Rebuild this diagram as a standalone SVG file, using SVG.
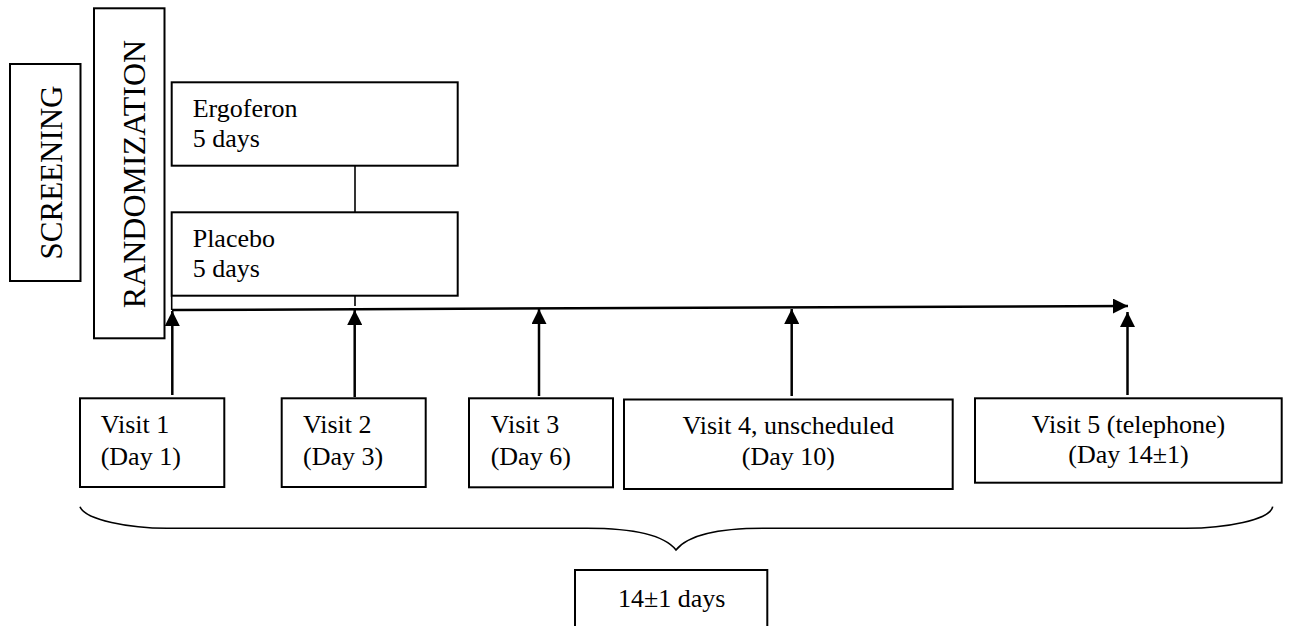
<svg xmlns="http://www.w3.org/2000/svg" width="1289" height="626" viewBox="0 0 1289 626">
<style>
.box{fill:#fff;stroke:#000;stroke-width:2}
.t{font-family:"Liberation Serif","Times New Roman",serif;font-size:26px;fill:#000}
.c{text-anchor:middle}
.big{font-family:"Liberation Serif","Times New Roman",serif;font-size:31px;fill:#000;text-anchor:middle}
.ln{stroke:#000;stroke-width:2.5;fill:none}
.thin{stroke:#000;stroke-width:1.6;fill:none}
</style>
<defs>
<marker id="ah" viewBox="0 0 10 10" refX="10" refY="5" markerWidth="6" markerHeight="6" markerUnits="strokeWidth" orient="auto">
<path d="M0,0 L10,5 L0,10 z" fill="#000"/>
</marker>
</defs>
<rect width="1289" height="626" fill="#fff"/>
<g id="screening">
<rect class="box" x="10" y="64" width="70.5" height="217"/>
<text class="big" transform="translate(62,172.5) rotate(-90)">SCREENING</text>
</g>
<g id="randomization">
<rect class="box" x="94" y="8.3" width="70.5" height="330"/>
<text class="big" style="font-size:32px" transform="translate(144.5,174) rotate(-90)">RANDOMIZATION</text>
</g>
<g id="ergoferon">
<rect class="box" x="171.7" y="82.3" width="286" height="83.4"/>
<text class="t" x="192.7" y="117.3">Ergoferon</text>
<text class="t" x="192.7" y="146.7">5 days</text>
</g>
<g id="placebo">
<rect class="box" x="171.7" y="212.3" width="286" height="83.4"/>
<text class="t" x="192.7" y="246.7">Placebo</text>
<text class="t" x="192.7" y="276.7">5 days</text>
</g>
<g id="visit1">
<rect class="box" x="80" y="398.3" width="144.3" height="88.7"/>
<text class="t" x="100.7" y="433.3">Visit 1</text>
<text class="t" x="100.7" y="465">(Day 1)</text>
</g>
<g id="visit2">
<rect class="box" x="281.7" y="398.3" width="144" height="88.7"/>
<text class="t" x="303" y="433.3">Visit 2</text>
<text class="t" x="303" y="465">(Day 3)</text>
</g>
<g id="visit3">
<rect class="box" x="469" y="398.3" width="144" height="89"/>
<text class="t" x="490.7" y="433.3">Visit 3</text>
<text class="t" x="490.7" y="465">(Day 6)</text>
</g>
<g id="visit4">
<rect class="box" x="624" y="399.5" width="328.7" height="89.5"/>
<text class="t c" x="788.3" y="434">Visit 4, unscheduled</text>
<text class="t c" x="788.3" y="465">(Day 10)</text>
</g>
<g id="visit5">
<rect class="box" x="975" y="398.3" width="306.7" height="84.4"/>
<text class="t c" x="1128.5" y="432.7">Visit 5 (telephone)</text>
<text class="t c" x="1128.5" y="463">(Day 14±1)</text>
</g>
<g id="duration">
<rect class="box" x="575" y="570" width="192.3" height="70"/>
<text class="t c" x="671.7" y="606.7">14±1 days</text>
</g>
<g id="connectors">
<line class="thin" x1="355" y1="165.7" x2="355" y2="212.3"/>
<line class="thin" x1="355" y1="295.7" x2="355" y2="306"/>
<line class="thin" x1="171.7" y1="295.7" x2="171.7" y2="310"/>
<line class="ln" x1="172" y1="310" x2="1128" y2="306" marker-end="url(#ah)"/>
<line class="ln" x1="172.3" y1="395" x2="172.3" y2="311" marker-end="url(#ah)"/>
<line class="ln" x1="354.7" y1="397" x2="354.7" y2="310" marker-end="url(#ah)"/>
<line class="ln" x1="539" y1="396" x2="539" y2="309" marker-end="url(#ah)"/>
<line class="ln" x1="791.7" y1="396" x2="791.7" y2="309" marker-end="url(#ah)"/>
<line class="ln" x1="1127.5" y1="395" x2="1127.5" y2="312" marker-end="url(#ah)"/>
<path class="thin" stroke-width="2" d="M80,506.7 C85,520 130,528.3 167,528.3 L587,528.3 C635,528.3 665,536 676,550 C687,536 717,528.3 763,528.3 L1186,528.3 C1225,528.3 1270,520 1272.7,506.7"/>
</g>
</svg>
